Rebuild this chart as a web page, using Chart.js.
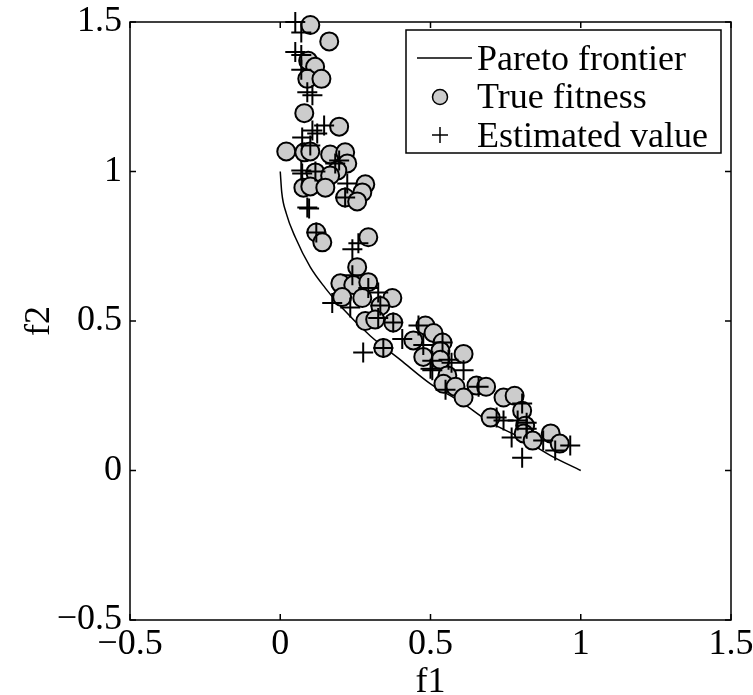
<!DOCTYPE html>
<html>
<head>
<meta charset="utf-8">
<script src="https://cdn.jsdelivr.net/npm/chart.js@4"></script>
<style>
  body { margin: 0; background: #fff; }
  #grafica { display: block; }
</style>
</head>
<body>
<canvas id="grafica" width="753" height="695"></canvas>
<script>
// ===============================
// DATOS
// ===============================
const etiquetas = ["Pareto frontier", "True fitness", "Estimated value"];
const tituloX = "f1";
const tituloY = "f2";
const marcasEje = [-0.5, 0, 0.5, 1, 1.5];

// frontera de Pareto
const frenteX = [0, 0.005, 0.02, 0.05, 0.1, 0.15, 0.2, 0.3, 0.4, 0.5, 0.6, 0.7, 0.8, 0.9, 1];
const frenteY = [1, 0.93, 0.86, 0.78, 0.68, 0.61, 0.55, 0.45, 0.37, 0.29, 0.23, 0.16, 0.11, 0.05, 0];

// aptitud real (círculos)
const realX = [0.10, 0.163, 0.093, 0.116, 0.09, 0.137, 0.08, 0.196, 0.02, 0.08, 0.10, 0.166, 0.216, 0.223,
  0.19, 0.117, 0.166, 0.077, 0.10, 0.15, 0.283, 0.273, 0.216, 0.256, 0.12, 0.14, 0.293, 0.256, 0.2, 0.243,
  0.293, 0.206, 0.273, 0.373, 0.333, 0.283, 0.316, 0.376, 0.343, 0.483, 0.51, 0.443, 0.54, 0.476, 0.533,
  0.533, 0.61, 0.556, 0.543, 0.583, 0.653, 0.685, 0.61, 0.743, 0.78, 0.805, 0.70, 0.815, 0.81, 0.84, 0.90, 0.93];
const realY = [1.49, 1.435, 1.37, 1.35, 1.31, 1.31, 1.195, 1.15, 1.067, 1.064, 1.067, 1.057, 1.064, 1.027,
  1.003, 0.997, 0.987, 0.946, 0.95, 0.946, 0.957, 0.93, 0.913, 0.90, 0.796, 0.763, 0.78, 0.68, 0.626, 0.62,
  0.63, 0.58, 0.577, 0.577, 0.55, 0.50, 0.505, 0.495, 0.41, 0.485, 0.46, 0.435, 0.428, 0.38, 0.40,
  0.37, 0.39, 0.318, 0.29, 0.28, 0.284, 0.28, 0.244, 0.244, 0.25, 0.20, 0.177, 0.15, 0.124, 0.10, 0.124, 0.09];

// valor estimado (cruces)
const estX = [0.05, 0.07, 0.05, 0.07, 0.07, 0.09, 0.107, 0.107, 0.146, 0.123, 0.073, 0.10, 0.196, 0.183,
  0.117, 0.07, 0.073, 0.223, 0.216, 0.096, 0.09, 0.12, 0.26, 0.24, 0.24, 0.293, 0.326, 0.173, 0.233, 0.333,
  0.326, 0.376, 0.276, 0.343, 0.46, 0.406, 0.54, 0.476, 0.506, 0.56, 0.57, 0.61, 0.50, 0.506, 0.55, 0.66,
  0.805, 0.72, 0.743, 0.82, 0.79, 0.77, 0.875, 0.965, 0.915, 0.805, 0.82];
const estY = [1.50, 1.465, 1.40, 1.39, 1.34, 1.265, 1.255, 1.137, 1.154, 1.127, 1.114, 1.087, 1.037, 1.027,
  1.0, 1.003, 0.993, 0.96, 0.913, 0.876, 0.88, 0.796, 0.76, 0.74, 0.653, 0.61, 0.595, 0.56, 0.545, 0.552,
  0.51, 0.495, 0.395, 0.41, 0.485, 0.44, 0.428, 0.42, 0.367, 0.37, 0.36, 0.335, 0.34, 0.335, 0.27, 0.28,
  0.224, 0.177, 0.167, 0.16, 0.167, 0.11, 0.10, 0.084, 0.067, 0.043, 0.14];

const fuente = '"Liberation Serif", "Times New Roman", serif';
const gris = "rgb(204,204,204)";

function aPuntos(xs, ys) {
    return xs.map((x, i) => ({ x: x, y: ys[i] }));
}

function formatoMarca(v) {
    const t = String(Math.round(v * 10) / 10);
    return t.replace("-", "\u2212");
}

// ===============================
// MARCO, MARCAS Y LEYENDA
// ===============================
const marco = {
    id: "marco",
    beforeDatasetsDraw(chart) {
        const { ctx, chartArea: a, scales } = chart;
        ctx.save();
        ctx.strokeStyle = "#000";
        ctx.lineWidth = 1.5;
        ctx.strokeRect(a.left, a.top, a.right - a.left, a.bottom - a.top);
        const largo = 6;
        ctx.beginPath();
        marcasEje.forEach(v => {
            const px = scales.x.getPixelForValue(v);
            ctx.moveTo(px, a.bottom); ctx.lineTo(px, a.bottom - largo);
            ctx.moveTo(px, a.top); ctx.lineTo(px, a.top + largo);
            const py = scales.y.getPixelForValue(v);
            ctx.moveTo(a.left, py); ctx.lineTo(a.left + largo, py);
            ctx.moveTo(a.right, py); ctx.lineTo(a.right - largo, py);
        });
        ctx.stroke();
        ctx.restore();
    },
    afterDraw(chart) {
        const ctx = chart.ctx;
        ctx.save();
        ctx.fillStyle = "#fff";
        ctx.fillRect(406, 30, 315, 123);
        ctx.strokeStyle = "#000";
        ctx.lineWidth = 1.5;
        ctx.strokeRect(406, 30, 315, 123);

        // línea
        ctx.beginPath();
        ctx.moveTo(417, 58); ctx.lineTo(472, 58);
        ctx.stroke();
        // círculo
        ctx.beginPath();
        ctx.arc(440, 97, 7.5, 0, Math.PI * 2);
        ctx.fillStyle = gris;
        ctx.fill();
        ctx.stroke();
        // cruz
        ctx.beginPath();
        ctx.moveTo(432, 135); ctx.lineTo(448, 135);
        ctx.moveTo(440, 127); ctx.lineTo(440, 143);
        ctx.stroke();

        ctx.fillStyle = "#000";
        ctx.font = "36px " + fuente;
        ctx.textBaseline = "alphabetic";
        ctx.fillText(etiquetas[0], 477, 70);
        ctx.fillText(etiquetas[1], 477, 108);
        ctx.fillText(etiquetas[2], 477, 147);
        ctx.restore();
    }
};

// ===============================
// GRÁFICA
// ===============================
const ctx = document.getElementById("grafica").getContext("2d");

const grafica = new Chart(ctx, {
    type: "scatter",
    data: {
        datasets: [
            {
                label: etiquetas[0],
                data: aPuntos(frenteX, frenteY),
                showLine: true,
                cubicInterpolationMode: "monotone",
                borderColor: "#000",
                borderWidth: 1.5,
                pointRadius: 0,
                order: 3,
                clip: false
            },
            {
                label: etiquetas[1],
                data: aPuntos(realX, realY),
                pointStyle: "circle",
                pointRadius: 9,
                pointBackgroundColor: gris,
                pointBorderColor: "#000",
                pointBorderWidth: 2,
                order: 2,
                clip: false
            },
            {
                label: etiquetas[2],
                data: aPuntos(estX, estY),
                pointStyle: "cross",
                pointRadius: 10,
                pointBorderColor: "#000",
                pointBorderWidth: 2,
                order: 1,
                clip: false
            }
        ]
    },
    options: {
        responsive: false,
        animation: false,
        layout: { padding: { top: 22, right: 22, left: 0, bottom: 0 } },
        plugins: {
            legend: { display: false },
            tooltip: { enabled: false }
        },
        scales: {
            x: {
                type: "linear",
                min: -0.5,
                max: 1.5,
                grid: { display: false, drawTicks: false },
                border: { display: false },
                ticks: {
                    stepSize: 0.5,
                    autoSkip: false,
                    maxRotation: 0,
                    padding: 3,
                    color: "#000",
                    font: { family: fuente, size: 36 },
                    callback: v => formatoMarca(v)
                },
                title: {
                    display: true,
                    text: tituloX,
                    color: "#000",
                    font: { family: fuente, size: 36, lineHeight: 0.7 },
                    padding: { top: 0, bottom: 0 }
                },
                afterFit: s => {
                    s.height = 75;
                    s.paddingLeft = 0;
                    s.paddingRight = 20;
                }
            },
            y: {
                type: "linear",
                min: -0.5,
                max: 1.5,
                grid: { display: false, drawTicks: false },
                border: { display: false },
                ticks: {
                    stepSize: 0.5,
                    autoSkip: false,
                    padding: 8,
                    color: "#000",
                    font: { family: fuente, size: 36 },
                    callback: v => formatoMarca(v)
                },
                title: {
                    display: true,
                    text: tituloY,
                    color: "#000",
                    font: { family: fuente, size: 36, lineHeight: 1 },
                    padding: { top: 22, bottom: 0 }
                },
                afterFit: s => {
                    s.width = 130;
                    s.paddingTop = 0;
                    s.paddingBottom = 0;
                }
            }
        }
    },
    plugins: [marco]
});
</script>
</body>
</html>
